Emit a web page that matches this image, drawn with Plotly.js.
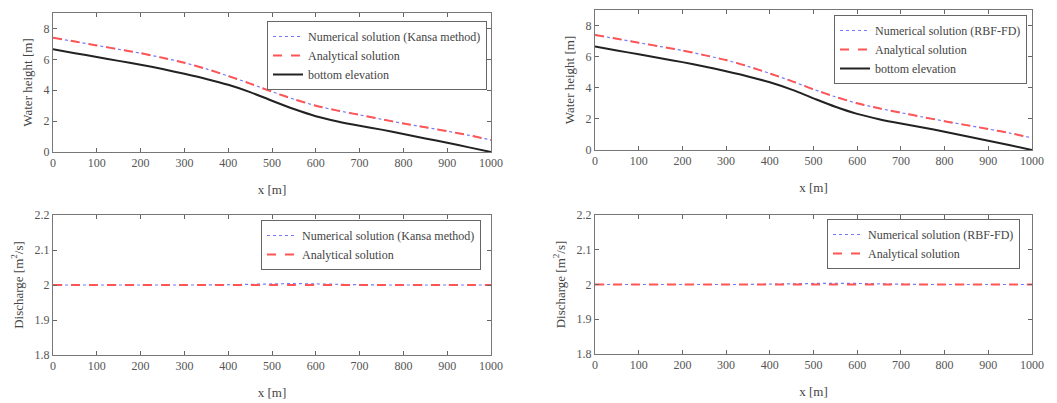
<!DOCTYPE html>
<html>
<head>
<meta charset="utf-8">
<script src="https://cdn.plot.ly/plotly-3.0.1.min.js"></script>
<style>html,body{margin:0;padding:0;background:#fff;}#chart{width:1057px;height:403px;}</style>
</head>
<body>
<div id="chart"></div>
<script>
// ---- data ----
const xPos = [0,50,100,150,200,250,300,350,400,450,500,550,600,650,700,750,800,850,900,950,1000];
const bottomElev = [6.65,6.4,6.15,5.9,5.65,5.37,5.06,4.73,4.35,3.88,3.32,2.78,2.32,1.98,1.7,1.45,1.17,0.88,0.6,0.3,0.0];
const waterAnalytical = [7.4,7.15,6.9,6.65,6.4,6.1,5.78,5.38,4.92,4.43,3.9,3.42,3.0,2.68,2.4,2.12,1.85,1.6,1.35,1.08,0.78];
const waterKansa = [7.4,7.15,6.9,6.65,6.4,6.1,5.78,5.38,4.92,4.43,3.91,3.42,3.0,2.68,2.4,2.12,1.85,1.6,1.35,1.08,0.78];
const waterRBF = [7.4,7.15,6.9,6.65,6.4,6.1,5.78,5.38,4.92,4.43,3.9,3.42,3.0,2.68,2.4,2.12,1.85,1.6,1.35,1.08,0.78];
const qAnalytical = [2,2,2,2,2,2,2,2,2,2,2,2,2,2,2,2,2,2,2,2,2];
const qKansa = [2,2,2,2,2,2,2,2,2.001,2.002,2.003,2.004,2.003,2.002,2.001,2,2,2,2,2,2];
const qRBF = [2,2,2,2,2,2,2,2,2.001,2.002,2.003,2.003,2.003,2.002,2.001,2,2,2,2,2,2];
const xTicks = [0,100,200,300,400,500,600,700,800,900,1000];

const W = 1057, H = 403;
const fx = p => p / W;
const fy = p => 1 - p / H;

const FONT = '"Liberation Serif", "Times New Roman", Times, serif';
const numStyle = {color:'#7777ff', width:1.2, dash:'dot', shape:'spline', smoothing:0.8};
const anaStyle = {color:'#ff5555', width:2, dash:'dash', shape:'spline', smoothing:0.8};
const botStyle = {color:'#222222', width:2, dash:'solid', shape:'spline', smoothing:0.8};

const traces = [
  {x:xPos, y:waterKansa, mode:'lines', name:'Numerical solution (Kansa method)', line:numStyle, xaxis:'x', yaxis:'y', legend:'legend'},
  {x:xPos, y:waterAnalytical, mode:'lines', name:'Analytical solution', line:anaStyle, xaxis:'x', yaxis:'y', legend:'legend'},
  {x:xPos, y:bottomElev, mode:'lines', name:'bottom elevation', line:botStyle, xaxis:'x', yaxis:'y', legend:'legend'},

  {x:xPos, y:waterRBF, mode:'lines', name:'Numerical solution (RBF-FD)', line:numStyle, xaxis:'x2', yaxis:'y2', legend:'legend2'},
  {x:xPos, y:waterAnalytical, mode:'lines', name:'Analytical solution', line:anaStyle, xaxis:'x2', yaxis:'y2', legend:'legend2'},
  {x:xPos, y:bottomElev, mode:'lines', name:'bottom elevation', line:botStyle, xaxis:'x2', yaxis:'y2', legend:'legend2'},

  {x:xPos, y:qKansa, mode:'lines', name:'Numerical solution (Kansa method)', line:numStyle, xaxis:'x3', yaxis:'y3', legend:'legend3'},
  {x:xPos, y:qAnalytical, mode:'lines', name:'Analytical solution', line:anaStyle, xaxis:'x3', yaxis:'y3', legend:'legend3'},

  {x:xPos, y:qRBF, mode:'lines', name:'Numerical solution (RBF-FD)', line:numStyle, xaxis:'x4', yaxis:'y4', legend:'legend4'},
  {x:xPos, y:qAnalytical, mode:'lines', name:'Analytical solution', line:anaStyle, xaxis:'x4', yaxis:'y4', legend:'legend4'}
];

function xax(d0, d1, anchor) {
  return {domain:[fx(d0), fx(d1)], anchor:anchor, range:[0,1000], tickvals:xTicks,
    ticks:'inside', ticklen:4, tickcolor:'#666', showline:true, linecolor:'#777', linewidth:1, mirror:'ticks',
    showgrid:false, zeroline:false, tickfont:{family:FONT, size:12, color:'#555'},
    title:{text:'x [m]', font:{family:FONT, size:13, color:'#444'}, standoff:15}};
}
function yax(d0, d1, anchor, range, dtick, title) {
  return {domain:[fy(d1), fy(d0)], anchor:anchor, range:range, dtick:dtick, tick0:range[0],
    ticks:'inside', ticklen:4, tickcolor:'#666', showline:true, linecolor:'#777', linewidth:1, mirror:'ticks',
    showgrid:false, zeroline:false, tickfont:{family:FONT, size:12, color:'#555'},
    title:{text:title, font:{family:FONT, size:13, color:'#444'}, standoff:8}};
}
function leg(xr, yt) {
  return {x:fx(xr), y:fy(yt), xanchor:'right', yanchor:'top', bgcolor:'#ffffff',
    bordercolor:'#666', borderwidth:1, font:{family:FONT, size:12, color:'#444'},
    tracegroupgap:0};
}

const layout = {
  width:W, height:H, margin:{l:0, r:0, t:0, b:0},
  paper_bgcolor:'#ffffff', plot_bgcolor:'#ffffff', font:{family:FONT},
  showlegend:true,
  xaxis: xax(53, 491, 'y'),
  yaxis: yax(13, 152, 'x', [0,9], 2, 'Water height [m]'),
  xaxis2: xax(595, 1032, 'y2'),
  yaxis2: yax(10, 150, 'x2', [0,9], 2, 'Water height [m]'),
  xaxis3: xax(53, 491, 'y3'),
  yaxis3: yax(215, 355, 'x3', [1.8,2.2], 0.1, 'Discharge [m<sup>2</sup>/s]'),
  xaxis4: xax(595, 1032, 'y4'),
  yaxis4: yax(215, 354, 'x4', [1.8,2.2], 0.1, 'Discharge [m<sup>2</sup>/s]'),
  legend: leg(487, 21),
  legend2: leg(1027, 15),
  legend3: leg(481, 220),
  legend4: leg(1020, 219)
};

Plotly.newPlot('chart', traces, layout, {displayModeBar:false, staticPlot:true});
</script>
</body>
</html>
